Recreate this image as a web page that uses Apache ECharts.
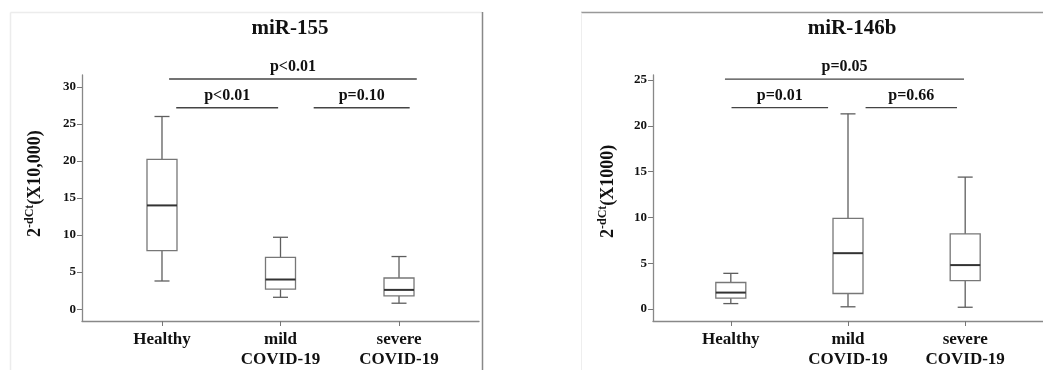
<!DOCTYPE html>
<html>
<head>
<meta charset="utf-8">
<script src="https://cdn.jsdelivr.net/npm/echarts@6/dist/echarts.min.js"></script>
<style>
html,body{margin:0;padding:0;background:#fff;}
#chart{width:1043px;height:370px;}
</style>
</head>
<body>
<div id="chart"></div>
<script>
// ---- data ----
const categories = ['Healthy', 'mild\nCOVID-19', 'severe\nCOVID-19'];
// [min, Q1, median, Q3, max]
const mir155 = [[3.8, 7.9, 14.0, 20.2, 26.0], [1.6, 2.7, 4.0, 7.0, 9.7], [0.8, 1.8, 2.6, 4.2, 7.1]];
const mir146b = [[0.6, 1.2, 1.8, 2.9, 3.9], [0.25, 1.7, 6.1, 9.9, 21.3], [0.2, 3.1, 4.8, 8.2, 14.4]];
const yTicks155 = [0, 5, 10, 15, 20, 25, 30];
const yTicks146b = [0, 5, 10, 15, 20, 25];
const xTicks = [1, 2, 3];
const pLabels155 = ['p<0.01', 'p<0.01', 'p=0.10'];
const pLabels146b = ['p=0.05', 'p=0.01', 'p=0.66'];
// bracket [xStart, xEnd, yLevel] in data units
const brackets155 = [[1.06, 3.15, 31.06], [1.12, 1.98, 27.18], [2.28, 3.09, 27.18]];
const brackets146b = [[0.95, 2.99, 25.1], [1.006, 1.83, 21.97], [2.15, 2.93, 21.97]];

const FF = '"Liberation Serif", "Times New Roman", serif';
const TXT = '#111';

function boxData(arr) { return arr.map((d, i) => [xTicks[i]].concat(d)); }
function brData(br, labels) { return br.map((b, i) => [b[0], b[1], b[2], labels[i]]); }

function renderBox(params, api) {
  const x = api.value(0);
  const mn = api.coord([x, api.value(1)]);
  const q1 = api.coord([x, api.value(2)]);
  const md = api.coord([x, api.value(3)]);
  const q3 = api.coord([x, api.value(4)]);
  const mx = api.coord([x, api.value(5)]);
  const px = md[0];
  const hw = 15, cw = 7.5;
  const wStyle = { stroke: '#5e5e5e', lineWidth: 1.3 };
  return {
    type: 'group',
    children: [
      { type: 'line', shape: { x1: px, y1: mx[1], x2: px, y2: q3[1] }, style: wStyle },
      { type: 'line', shape: { x1: px, y1: q1[1], x2: px, y2: mn[1] }, style: wStyle },
      { type: 'line', shape: { x1: px - cw, y1: mx[1], x2: px + cw, y2: mx[1] }, style: wStyle },
      { type: 'line', shape: { x1: px - cw, y1: mn[1], x2: px + cw, y2: mn[1] }, style: wStyle },
      { type: 'rect', shape: { x: px - hw, y: q3[1], width: 2 * hw, height: q1[1] - q3[1] }, style: { fill: '#fff', stroke: '#777', lineWidth: 1.3 } },
      { type: 'line', shape: { x1: px - hw, y1: md[1], x2: px + hw, y2: md[1] }, style: { stroke: '#333', lineWidth: 2 } }
    ]
  };
}

function renderBracket(params, api) {
  const a = api.coord([api.value(0), api.value(2)]);
  const b = api.coord([api.value(1), api.value(2)]);
  const label = api.value(3);
  return {
    type: 'group',
    children: [
      { type: 'line', shape: { x1: a[0], y1: a[1], x2: b[0], y2: b[1] }, style: { stroke: '#444', lineWidth: 1.3 } },
      { type: 'text', x: (a[0] + b[0]) / 2, y: a[1] - 12, style: { text: String(label), font: 'bold 16px ' + FF, fill: TXT, align: 'center', verticalAlign: 'middle' } }
    ]
  };
}

function xAxisCfg(gi, min, max) {
  return {
    type: 'value', gridIndex: gi, min: min, max: max,
    splitLine: { show: false },
    axisLine: { show: true, onZero: false, lineStyle: { color: '#888', width: 1.3 } },
    axisTick: { show: true, customValues: xTicks, length: 5, lineStyle: { color: '#777' } },
    axisLabel: {
      customValues: xTicks, margin: 9,
      formatter: v => categories[Math.round(v) - 1] || '',
      fontFamily: FF, fontWeight: 'bold', fontSize: 17, lineHeight: 20, color: TXT
    }
  };
}
function yAxisCfg(gi, min, max, ticks) {
  return {
    type: 'value', gridIndex: gi, min: min, max: max,
    splitLine: { show: false },
    axisLine: { show: true, onZero: false, lineStyle: { color: '#888', width: 1.3 } },
    axisTick: { show: true, customValues: ticks, length: 5, lineStyle: { color: '#777' } },
    axisLabel: { customValues: ticks, margin: 6, fontFamily: FF, fontWeight: 'bold', fontSize: 13, color: TXT }
  };
}

function yName(x, y, unit) {
  return {
    type: 'text', x: x, y: y, rotation: Math.PI / 2,
    style: {
      text: '{b|2}{s|-dCt}{b|' + unit + '}',
      align: 'left', verticalAlign: 'middle',
      rich: {
        b: { fontFamily: FF, fontWeight: 'bold', fontSize: 18, fill: TXT, lineHeight: 22, verticalAlign: 'middle' },
        s: { fontFamily: FF, fontWeight: 'bold', fontSize: 12, fill: TXT, lineHeight: 22, verticalAlign: 'top' }
      }
    }
  };
}

const chart = echarts.init(document.getElementById('chart'), null, { renderer: 'canvas' });
chart.setOption({
  backgroundColor: '#fff',
  animation: false,
  title: [
    { text: 'miR-155', left: 285, top: 13, textAlign: 'center', textStyle: { fontFamily: FF, fontWeight: 'bold', fontSize: 21, color: TXT } },
    { text: 'miR-146b', left: 847, top: 13, textAlign: 'center', textStyle: { fontFamily: FF, fontWeight: 'bold', fontSize: 21, color: TXT } }
  ],
  grid: [
    { left: 82, top: 75, width: 397, height: 248 },
    { left: 653, top: 75, width: 403, height: 248 }
  ],
  xAxis: [xAxisCfg(0, 0.325, 3.675), xAxisCfg(1, 0.336, 3.664)],
  yAxis: [yAxisCfg(0, -1.6, 31.6, yTicks155), yAxisCfg(1, -1.3, 25.54, yTicks146b)],
  graphic: [
    { type: 'line', shape: { x1: 10.5, y1: 12.5, x2: 482, y2: 12.5 }, style: { stroke: '#ececec', lineWidth: 1.5 } },
    { type: 'line', shape: { x1: 10.5, y1: 12.5, x2: 10.5, y2: 370 }, style: { stroke: '#ececec', lineWidth: 1.5 } },
    { type: 'line', shape: { x1: 482.5, y1: 12, x2: 482.5, y2: 370 }, style: { stroke: '#888', lineWidth: 1.5 } },
    { type: 'line', shape: { x1: 581, y1: 12.5, x2: 1043, y2: 12.5 }, style: { stroke: '#999', lineWidth: 1.5 } },
    { type: 'line', shape: { x1: 581.5, y1: 12.5, x2: 581.5, y2: 370 }, style: { stroke: '#eeeeee', lineWidth: 1 } },
    yName(35, 237, '(X10,000)'),
    yName(608, 238, '(X1000)')
  ],
  series: [
    { type: 'custom', xAxisIndex: 0, yAxisIndex: 0, data: boxData(mir155), renderItem: renderBox, clip: false },
    { type: 'custom', xAxisIndex: 1, yAxisIndex: 1, data: boxData(mir146b), renderItem: renderBox, clip: false },
    { type: 'custom', xAxisIndex: 0, yAxisIndex: 0, data: brData(brackets155, pLabels155), renderItem: renderBracket, clip: false,
      dimensions: ['x1', 'x2', 'y', { name: 'label', type: 'ordinal' }] },
    { type: 'custom', xAxisIndex: 1, yAxisIndex: 1, data: brData(brackets146b, pLabels146b), renderItem: renderBracket, clip: false,
      dimensions: ['x1', 'x2', 'y', { name: 'label', type: 'ordinal' }] }
  ]
});
</script>
</body>
</html>
